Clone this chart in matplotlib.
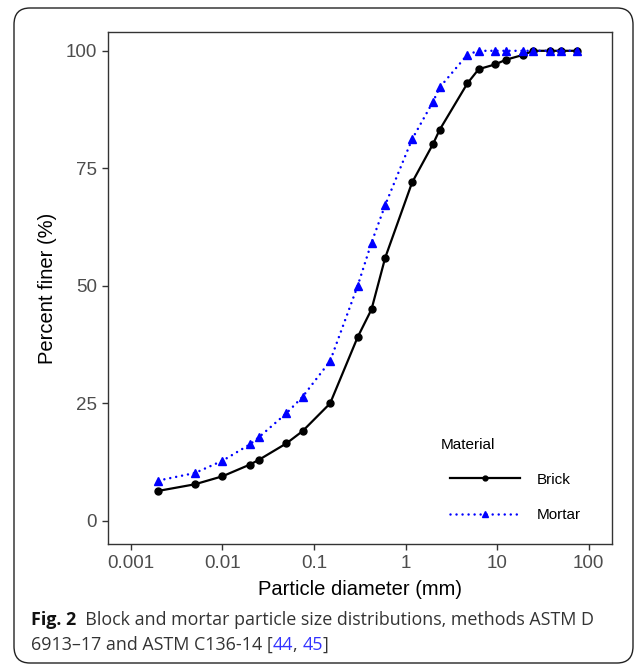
#!/usr/bin/env python3
import matplotlib
matplotlib.use('Agg')
import matplotlib.pyplot as plt
from matplotlib.patches import FancyBboxPatch

# sieve / hydrometer sizes (mm) and percent finer
diameter = [0.002, 0.005, 0.01, 0.02, 0.025, 0.05, 0.075, 0.15, 0.3, 0.425, 0.6,
            1.18, 2.0, 2.36, 4.75, 6.3, 9.5, 12.5, 19, 25, 37.5, 50, 75]
brick = [6.4, 7.8, 9.5, 12.0, 13.0, 16.5, 19.1, 25.0, 39.1, 45.0, 56.0,
         72.0, 80.2, 83.2, 93.1, 96.1, 97.1, 98.1, 99.1, 100, 100, 100, 100]
mortar = [8.6, 10.2, 12.8, 16.3, 17.8, 22.9, 26.4, 34.0, 50.0, 59.2, 67.2,
          81.2, 89.2, 92.2, 99.2, 100, 100, 100, 100, 100, 100, 100, 100]

x_ticks = [0.001, 0.01, 0.1, 1, 10, 100]
x_tick_labels = ['0.001', '0.01', '0.1', '1', '10', '100']
y_ticks = [0, 25, 50, 75, 100]

W, H = 636, 665
fig = plt.figure(figsize=(W / 100, H / 100), dpi=100)
plt.rcParams['font.family'] = ['Liberation Sans', 'DejaVu Sans']

# outer rounded frame
frame = FancyBboxPatch((14 / W, 2 / H), 619 / W, 655 / H,
                       boxstyle='round,pad=0,rounding_size=0.025',
                       transform=fig.transFigure, fill=False,
                       edgecolor='#222222', linewidth=1.0)
fig.patches.append(frame)

left, right, top, bottom = 108, 611.5, 32, 544
ax = fig.add_axes([left / W, 1 - bottom / H, (right - left) / W, (bottom - top) / H])

ax.plot(diameter, brick, color='black', lw=1.6, marker='o', ms=5,
        label='Brick', zorder=2)
ax.plot(diameter, mortar, color='#0000ff', lw=1.8, ls=(0, (0.01, 2.4)),
        dash_capstyle='round', marker='^', ms=6.3, label='Mortar', zorder=3)

ax.set_xscale('log')
ax.set_xlim(10 ** -3.25, 10 ** 2.25)
ax.set_ylim(-4.9, 104)
ax.set_xticks(x_ticks)
ax.set_xticklabels(x_tick_labels)
ax.minorticks_off()
ax.set_yticks(y_ticks)
ax.tick_params(direction='out', length=4, width=1, color='#333333',
               labelsize=13.5, labelcolor='#4d4d4d', pad=4)
for s in ax.spines.values():
    s.set_color('#333333')
    s.set_linewidth(1)

ax.set_xlabel('Particle diameter (mm)', fontsize=14.5, labelpad=6)
ax.set_ylabel('Percent finer (%)', fontsize=14.5, labelpad=6)

fig.text(441 / W, 1 - 445 / H, 'Material', fontsize=11, va='center', ha='left')
leg = ax.legend(frameon=False, fontsize=11, markerscale=0.7,
                loc='upper left', bbox_to_anchor=(436 / W, 1 - 459 / H),
                bbox_transform=fig.transFigure, handlelength=4.6,
                handletextpad=1.1, labelspacing=1.4)

# caption
renderer = fig.canvas.get_renderer()
cap_font = ['Open Sans', 'DejaVu Sans']
cap_size = 12.9


def put_pieces(pieces, x0, y):
    x = x0
    for txt, color, weight in pieces:
        t = fig.text(x / W, 1 - y / H, txt, color=color, fontsize=cap_size,
                     fontweight=weight, family=cap_font, va='center', ha='left')
        bb = t.get_window_extent(renderer)
        x += bb.width


gray = '#333333'
blue = '#3333ff'
put_pieces([('Fig. 2', '#111111', 'bold'),
            ('  Block and mortar particle size distributions, methods ASTM D', gray, 'normal')],
           31, 620)
put_pieces([('6913\u201317 and ASTM C136-14 [', gray, 'normal'),
            ('44', blue, 'normal'), (', ', gray, 'normal'),
            ('45', blue, 'normal'), (']', gray, 'normal')],
           31, 645)

fig.savefig('out.png', dpi=100)
